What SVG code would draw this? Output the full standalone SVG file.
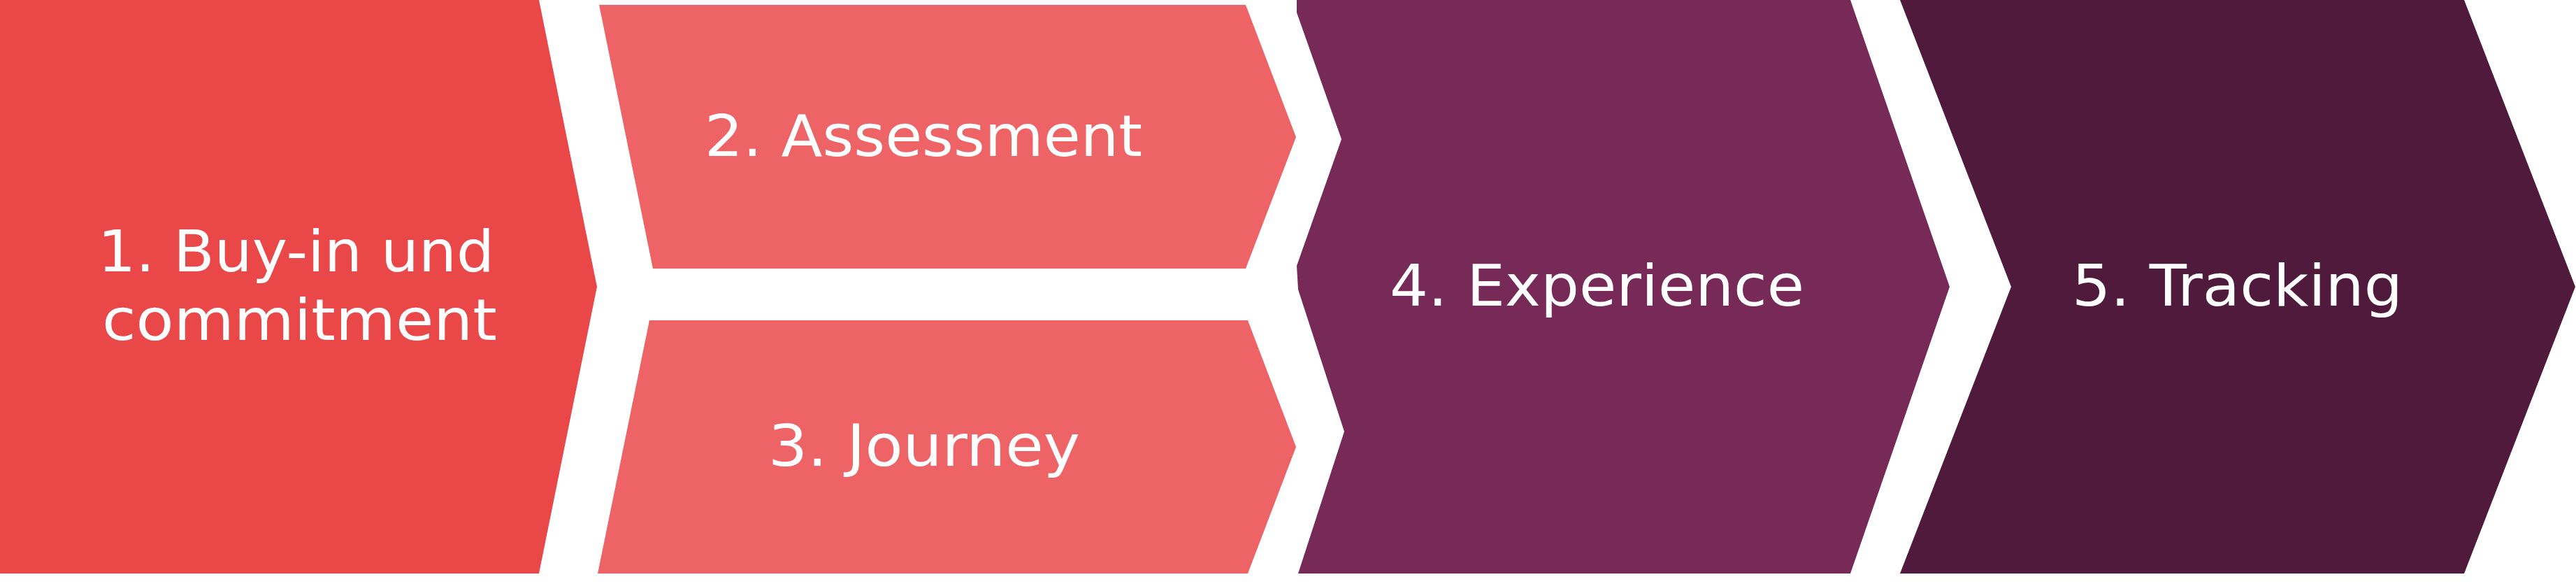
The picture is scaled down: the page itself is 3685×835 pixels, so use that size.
<svg xmlns="http://www.w3.org/2000/svg" width="3685" height="835" viewBox="0 0 3685 835">
<style>
.lbl{font-family:"DejaVu Sans","Liberation Sans",sans-serif;font-size:82px;fill:#ffffff;}
.c1{fill:#E94748;}
.c2{fill:#EE6466;}
.c4{fill:#772957;}
.c5{fill:#4F1A3B;}
</style>
<rect width="3685" height="835" fill="#ffffff"/>
<g id="connectors"/>
<g id="node1">
<polygon class="c1" points="0,0 771,0 854,410 771,820 0,820"/>
<text class="lbl" x="140" y="388" textLength="567" lengthAdjust="spacingAndGlyphs">1. Buy-in und</text>
<text class="lbl" x="146" y="486" textLength="565" lengthAdjust="spacingAndGlyphs">commitment</text>
</g>
<g id="node2">
<polygon class="c2" points="857,7 1782,7 1854,196 1782,384 934,384"/>
<text class="lbl" x="1008" y="223" textLength="626" lengthAdjust="spacingAndGlyphs">2. Assessment</text>
</g>
<g id="node3">
<polygon class="c2" points="929,458 1785,458 1854,639 1785,820 855,820"/>
<text class="lbl" x="1099" y="666" textLength="446" lengthAdjust="spacingAndGlyphs">3. Journey</text>
</g>
<g id="node4">
<polygon class="c4" points="1855,0 2647,0 2789,410 2647,820 1857,820 1923,617 1857,414 1855,380 1919,199 1855,18"/>
<text class="lbl" x="1988" y="437" textLength="593" lengthAdjust="spacingAndGlyphs">4. Experience</text>
</g>
<g id="node5">
<polygon class="c5" points="2718,0 3525,0 3684,410 3525,820 2718,820 2877,410"/>
<text class="lbl" x="2964" y="437" textLength="473" lengthAdjust="spacingAndGlyphs">5. Tracking</text>
</g>
</svg>
